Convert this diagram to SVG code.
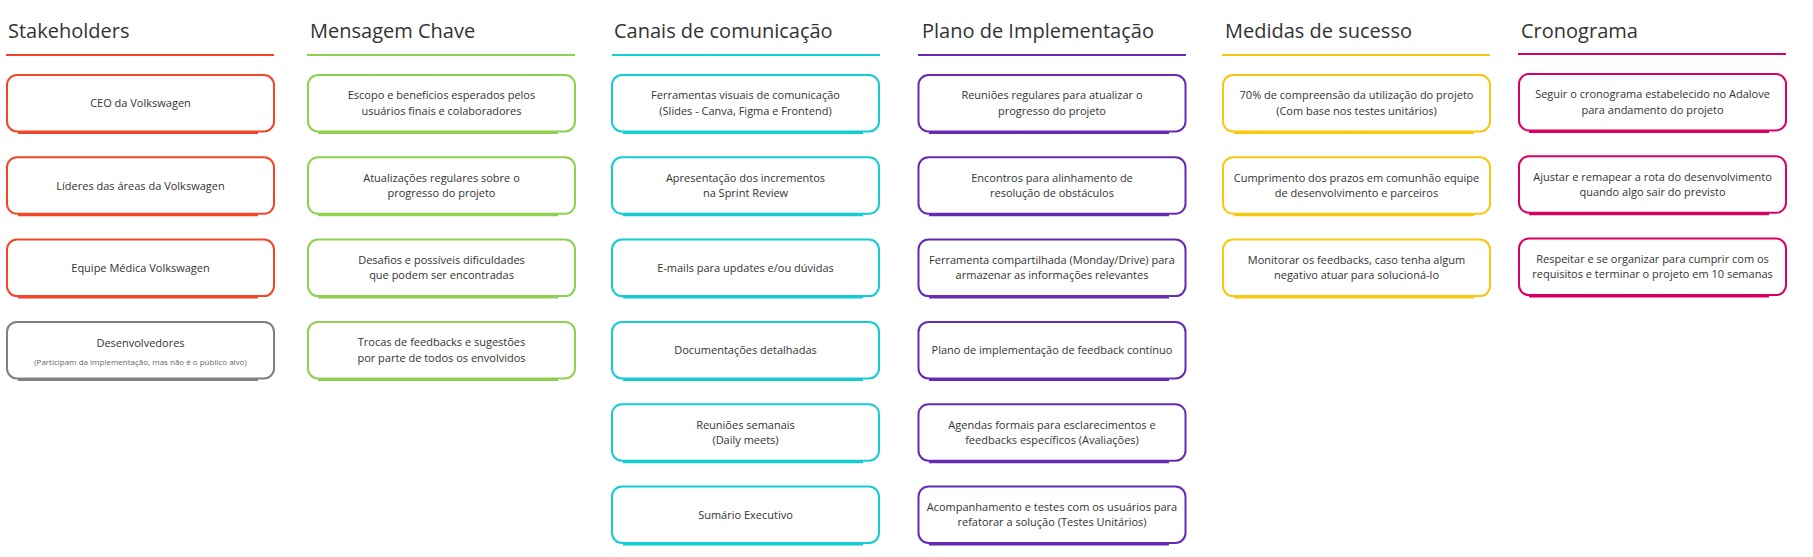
<svg xmlns="http://www.w3.org/2000/svg" width="1813" height="557" viewBox="0 0 1813 557">
<style>
  .title{font-family:"Open Sans","DejaVu Sans",sans-serif;font-size:20px;fill:#333333;}
  .t{font-family:"Open Sans","DejaVu Sans",sans-serif;font-size:11px;fill:#333333;text-anchor:middle;}
  .s{font-family:"Open Sans","DejaVu Sans",sans-serif;font-size:8px;fill:#666666;text-anchor:middle;}
  .box{fill:#ffffff;stroke-width:2;}
  .sh{stroke-width:3;fill:none;}
  .hl{stroke-width:2;fill:none;}
  .red .box,.red .sh,.red .hl{stroke:#F24726;}
  .grn .box,.grn .sh,.grn .hl{stroke:#8FD14F;}
  .cyn .box,.cyn .sh,.cyn .hl{stroke:#12CDD4;}
  .vio .box,.vio .sh,.vio .hl{stroke:#652CB3;}
  .yel .box,.yel .sh,.yel .hl{stroke:#FAC710;}
  .mag .box,.mag .sh,.mag .hl{stroke:#DA0063;}
  .gry .box,.gry .sh{stroke:#808080;}
</style>
<rect width="1813" height="557" fill="#ffffff"/>
<g id="connectors"></g>

<!-- Stakeholders -->
<g id="col-stakeholders" class="red">
  <text class="title" x="8" y="38">Stakeholders</text>
  <line class="hl" x1="6" y1="55" x2="274" y2="55"/>
  <g id="sh-1"><line class="sh" x1="18" y1="132.5" x2="258" y2="132.5"/><rect class="box" x="7" y="75" width="267" height="56.5" rx="10"/><text class="t" x="140.5" y="107.3">CEO da Volkswagen</text></g>
  <g id="sh-2"><line class="sh" x1="18" y1="214.8" x2="258" y2="214.8"/><rect class="box" x="7" y="157.3" width="267" height="56.5" rx="10"/><text class="t" x="140.5" y="189.6">Líderes das áreas da Volkswagen</text></g>
  <g id="sh-3"><line class="sh" x1="18" y1="297.1" x2="258" y2="297.1"/><rect class="box" x="7" y="239.6" width="267" height="56.5" rx="10"/><text class="t" x="140.5" y="271.9">Equipe Médica Volkswagen</text></g>
  <g id="sh-4" class="gry"><line class="sh" x1="18" y1="379.4" x2="258" y2="379.4"/><rect class="box" x="7" y="321.9" width="267" height="56.5" rx="10"/><text class="t" x="140.5" y="346.7">Desenvolvedores</text><text class="s" x="140.5" y="364.8">(Participam da implementação, mas não é o público alvo)</text></g>
</g>

<!-- Mensagem Chave -->
<g id="col-mensagem" class="grn">
  <text class="title" x="310" y="38">Mensagem Chave</text>
  <line class="hl" x1="307" y1="55" x2="575" y2="55"/>
  <g id="mc-1"><line class="sh" x1="318" y1="132.5" x2="558" y2="132.5"/><rect class="box" x="308" y="75" width="267" height="56.5" rx="10"/><text class="t" x="441.5" y="99.3">Escopo e benefícios esperados pelos</text><text class="t" x="441.5" y="114.8">usuários finais e colaboradores</text></g>
  <g id="mc-2"><line class="sh" x1="318" y1="214.8" x2="558" y2="214.8"/><rect class="box" x="308" y="157.3" width="267" height="56.5" rx="10"/><text class="t" x="441.5" y="181.6">Atualizações regulares sobre o</text><text class="t" x="441.5" y="197.1">progresso do projeto</text></g>
  <g id="mc-3"><line class="sh" x1="318" y1="297.1" x2="558" y2="297.1"/><rect class="box" x="308" y="239.6" width="267" height="56.5" rx="10"/><text class="t" x="441.5" y="263.9">Desafios e possíveis dificuldades</text><text class="t" x="441.5" y="279.4">que podem ser encontradas</text></g>
  <g id="mc-4"><line class="sh" x1="318" y1="379.4" x2="558" y2="379.4"/><rect class="box" x="308" y="321.9" width="267" height="56.5" rx="10"/><text class="t" x="441.5" y="346.2">Trocas de feedbacks e sugestões</text><text class="t" x="441.5" y="361.7">por parte de todos os envolvidos</text></g>
</g>

<!-- Canais de comunicação -->
<g id="col-canais" class="cyn">
  <text class="title" x="614" y="38">Canais de comunicação</text>
  <line class="hl" x1="612" y1="55" x2="880" y2="55"/>
  <g id="cc-1"><line class="sh" x1="623" y1="132.5" x2="863" y2="132.5"/><rect class="box" x="612" y="75" width="267" height="56.5" rx="10"/><text class="t" x="745.5" y="99.3">Ferramentas visuais de comunicação</text><text class="t" x="745.5" y="114.8">(Slides - Canva, Figma e Frontend)</text></g>
  <g id="cc-2"><line class="sh" x1="623" y1="214.8" x2="863" y2="214.8"/><rect class="box" x="612" y="157.3" width="267" height="56.5" rx="10"/><text class="t" x="745.5" y="181.6">Apresentação dos incrementos</text><text class="t" x="745.5" y="197.1">na Sprint Review</text></g>
  <g id="cc-3"><line class="sh" x1="623" y1="297.1" x2="863" y2="297.1"/><rect class="box" x="612" y="239.6" width="267" height="56.5" rx="10"/><text class="t" x="745.5" y="271.9">E-mails para updates e/ou dúvidas</text></g>
  <g id="cc-4"><line class="sh" x1="623" y1="379.4" x2="863" y2="379.4"/><rect class="box" x="612" y="321.9" width="267" height="56.5" rx="10"/><text class="t" x="745.5" y="354.2">Documentações detalhadas</text></g>
  <g id="cc-5"><line class="sh" x1="623" y1="461.7" x2="863" y2="461.7"/><rect class="box" x="612" y="404.2" width="267" height="56.5" rx="10"/><text class="t" x="745.5" y="428.5">Reuniões semanais</text><text class="t" x="745.5" y="444">(Daily meets)</text></g>
  <g id="cc-6"><line class="sh" x1="623" y1="544" x2="863" y2="544"/><rect class="box" x="612" y="486.5" width="267" height="56.5" rx="10"/><text class="t" x="745.5" y="518.8">Sumário Executivo</text></g>
</g>

<!-- Plano de Implementação -->
<g id="col-plano" class="vio">
  <text class="title" x="922" y="38">Plano de Implementação</text>
  <line class="hl" x1="918" y1="55" x2="1186" y2="55"/>
  <g id="pi-1"><line class="sh" x1="929" y1="132.5" x2="1169" y2="132.5"/><rect class="box" x="918.5" y="75" width="267" height="56.5" rx="10"/><text class="t" x="1052" y="99.3">Reuniões regulares para atualizar o</text><text class="t" x="1052" y="114.8">progresso do projeto</text></g>
  <g id="pi-2"><line class="sh" x1="929" y1="214.8" x2="1169" y2="214.8"/><rect class="box" x="918.5" y="157.3" width="267" height="56.5" rx="10"/><text class="t" x="1052" y="181.6">Encontros para alinhamento de</text><text class="t" x="1052" y="197.1">resolução de obstáculos</text></g>
  <g id="pi-3"><line class="sh" x1="929" y1="297.1" x2="1169" y2="297.1"/><rect class="box" x="918.5" y="239.6" width="267" height="56.5" rx="10"/><text class="t" x="1052" y="263.9">Ferramenta compartilhada (Monday/Drive) para</text><text class="t" x="1052" y="279.4">armazenar as informações relevantes</text></g>
  <g id="pi-4"><line class="sh" x1="929" y1="379.4" x2="1169" y2="379.4"/><rect class="box" x="918.5" y="321.9" width="267" height="56.5" rx="10"/><text class="t" x="1052" y="354.2">Plano de implementação de feedback contínuo</text></g>
  <g id="pi-5"><line class="sh" x1="929" y1="461.7" x2="1169" y2="461.7"/><rect class="box" x="918.5" y="404.2" width="267" height="56.5" rx="10"/><text class="t" x="1052" y="428.5">Agendas formais para esclarecimentos e</text><text class="t" x="1052" y="444">feedbacks específicos (Avaliações)</text></g>
  <g id="pi-6"><line class="sh" x1="929" y1="544" x2="1169" y2="544"/><rect class="box" x="918.5" y="486.5" width="267" height="56.5" rx="10"/><text class="t" x="1052" y="510.8">Acompanhamento e testes com os usuários para</text><text class="t" x="1052" y="526.3">refatorar a solução (Testes Unitários)</text></g>
</g>

<!-- Medidas de sucesso -->
<g id="col-medidas" class="yel">
  <text class="title" x="1225" y="38">Medidas de sucesso</text>
  <line class="hl" x1="1222" y1="55" x2="1490" y2="55"/>
  <g id="ms-1"><line class="sh" x1="1234" y1="132.5" x2="1474" y2="132.5"/><rect class="box" x="1223" y="75" width="267" height="56.5" rx="10"/><text class="t" x="1356.5" y="99.3">70% de compreensão da utilização do projeto</text><text class="t" x="1356.5" y="114.8">(Com base nos testes unitários)</text></g>
  <g id="ms-2"><line class="sh" x1="1234" y1="214.8" x2="1474" y2="214.8"/><rect class="box" x="1223" y="157.3" width="267" height="56.5" rx="10"/><text class="t" x="1356.5" y="181.6">Cumprimento dos prazos em comunhão equipe</text><text class="t" x="1356.5" y="197.1">de desenvolvimento e parceiros</text></g>
  <g id="ms-3"><line class="sh" x1="1234" y1="297.1" x2="1474" y2="297.1"/><rect class="box" x="1223" y="239.6" width="267" height="56.5" rx="10"/><text class="t" x="1356.5" y="263.9">Monitorar os feedbacks, caso tenha algum</text><text class="t" x="1356.5" y="279.4">negativo atuar para solucioná-lo</text></g>
</g>

<!-- Cronograma -->
<g id="col-cronograma" class="mag">
  <text class="title" x="1521" y="38">Cronograma</text>
  <line class="hl" x1="1518" y1="54" x2="1786" y2="54"/>
  <g id="cr-1"><line class="sh" x1="1529" y1="131.5" x2="1769" y2="131.5"/><rect class="box" x="1519" y="74" width="267" height="56.5" rx="10"/><text class="t" x="1652.5" y="98.3">Seguir o cronograma estabelecido no Adalove</text><text class="t" x="1652.5" y="113.8">para andamento do projeto</text></g>
  <g id="cr-2"><line class="sh" x1="1529" y1="213.8" x2="1769" y2="213.8"/><rect class="box" x="1519" y="156.3" width="267" height="56.5" rx="10"/><text class="t" x="1652.5" y="180.6">Ajustar e remapear a rota do desenvolvimento</text><text class="t" x="1652.5" y="196.1">quando algo sair do previsto</text></g>
  <g id="cr-3"><line class="sh" x1="1529" y1="296.1" x2="1769" y2="296.1"/><rect class="box" x="1519" y="238.6" width="267" height="56.5" rx="10"/><text class="t" x="1652.5" y="262.9">Respeitar e se organizar para cumprir com os</text><text class="t" x="1652.5" y="278.4">requisitos e terminar o projeto em 10 semanas</text></g>
</g>
</svg>
